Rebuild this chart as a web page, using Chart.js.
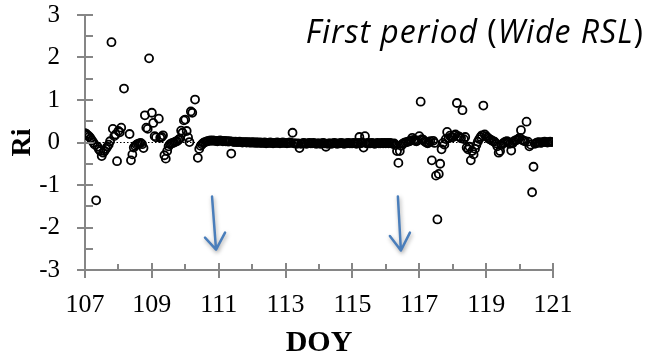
<!DOCTYPE html>
<html>
<head>
<meta charset="utf-8">
<title>Ri vs DOY</title>
<script src="https://cdn.jsdelivr.net/npm/chart.js@4/dist/chart.umd.min.js"></script>
<style>
  html, body { margin: 0; padding: 0; background: #fff; }
  #wrap { position: relative; width: 650px; height: 358px; }
  #period {
    position: absolute; right: 6px; top: 16px;
    font-family: "Open Sans", "Noto Sans", sans-serif; font-size: 32px; line-height: 30px;
    letter-spacing: 1px; color: #000; white-space: nowrap;
  }
  #period i { font-style: italic; }
</style>
</head>
<body>
<div id="wrap">
  <canvas id="riChart" width="650" height="358"></canvas>
  <div id="period"><i>First period</i> (<i>Wide RSL</i>)</div>
</div>
<script>
// hourly Richardson number, one array per day (hour 0..23), null = no data
const days = [107, 108, 109, 110, 111, 112, 113, 114, 115, 116, 117, 118, 119, 120];
const ri107 = [0.22, 0.2, 0.17, 0.14, 0.1, 0.05, 0.0, -0.05, -1.36, -0.1, -0.16, -0.2, -0.32, -0.24, -0.2, -0.15, -0.1, -0.05, 0.03, 2.36, 0.32, 0.15, 0.19, -0.44];
const ri108 = [0.27, 0.24, 0.35, null, 1.27, null, null, null, 0.2, -0.42, -0.28, -0.12, -0.08, -0.05, -0.03, -0.02, -0.01, -0.04, -0.13, 0.64, 0.35, 0.32, 1.98, null];
const ri109 = [0.7, 0.46, 0.15, 0.12, null, 0.56, 0.11, 0.13, 0.17, -0.3, -0.38, -0.2, -0.09, -0.04, -0.02, -0.01, 0.0, 0.02, 0.03, 0.06, 0.09, 0.28, 0.23, 0.52];
const ri110 = [0.54, 0.27, 0.12, 0.01, 0.73, 0.7, null, 1.01, null, -0.36, -0.15, -0.08, -0.04, -0.01, 0.01, 0.02, 0.03, 0.04, 0.05, 0.04, 0.05, 0.04, 0.04, 0.03];
const ri111 = [0.04, 0.05, 0.04, 0.03, 0.04, 0.03, 0.03, 0.02, 0.03, -0.26, 0.02, 0.01, 0.02, 0.01, 0.01, 0.02, 0.01, 0.0, 0.01, 0.01, 0.0, 0.01, 0.0, 0.0];
const ri112 = [0.0, 0.01, -0.01, 0.0, 0.0, -0.01, 0.0, -0.01, -0.01, 0.0, -0.02, -0.01, -0.01, 0.0, -0.01, -0.02, -0.01, -0.01, 0.0, -0.01, -0.02, -0.01, 0.0, -0.01];
const ri113 = [-0.01, -0.02, -0.01, 0.0, -0.01, 0.23, -0.02, -0.02, -0.03, -0.02, -0.13, -0.03, -0.02, -0.01, -0.02, -0.03, -0.02, -0.01, -0.02, -0.02, -0.01, -0.02, -0.03, -0.02];
const ri114 = [-0.02, -0.03, -0.02, -0.01, -0.02, -0.1, -0.03, -0.02, -0.02, -0.03, -0.02, -0.01, -0.02, -0.03, -0.02, -0.02, -0.01, -0.02, -0.03, -0.02, -0.02, -0.01, -0.02, -0.02];
const ri115 = [-0.02, -0.01, -0.02, -0.03, -0.01, 0.13, -0.02, 0.0, -0.12, 0.15, -0.02, -0.01, -0.02, -0.02, -0.01, -0.02, -0.03, -0.02, -0.01, -0.02, -0.02, -0.01, -0.02, -0.01];
const ri116 = [-0.02, -0.01, -0.02, -0.01, -0.02, -0.03, -0.02, -0.06, -0.2, -0.48, -0.2, -0.08, -0.03, -0.01, 0.0, 0.01, 0.02, 0.03, 0.05, 0.11, 0.06, 0.04, 0.03, 0.05];
const ri117 = [0.15, 0.96, 0.08, 0.06, 0.02, 0.0, -0.02, 0.0, 0.03, -0.42, 0.04, -0.01, -0.78, -1.81, -0.74, -0.5, -0.16, -0.01, -0.05, 0.08, 0.25, 0.1, 0.16, 0.12];
const ri118 = [0.12, 0.17, 0.19, 0.93, 0.15, 0.13, 0.1, 0.76, 0.08, 0.13, -0.12, -0.16, -0.1, -0.42, -0.2, -0.28, -0.15, -0.06, 0.02, 0.08, 0.13, 0.17, 0.87, 0.19];
const ri119 = [0.15, 0.12, 0.09, 0.07, 0.05, 0.03, 0.02, -0.02, -0.09, -0.24, -0.2, -0.06, -0.02, 0.0, 0.02, 0.03, 0.01, -0.03, -0.19, -0.02, 0.03, 0.05, 0.06, 0.08];
const ri120 = [0.11, 0.29, 0.06, 0.04, 0.03, 0.49, 0.02, -0.09, -0.05, -1.17, -0.57, -0.03, -0.01, 0.0, 0.01, -0.01, 0.0, 0.01, 0.02, 0.01, 0.0, 0.01, 0.02, 0.01];
const riByDay = [ri107, ri108, ri109, ri110, ri111, ri112, ri113, ri114, ri115, ri116, ri117, ri118, ri119, ri120];

const xTicks = [107, 109, 111, 113, 115, 117, 119, 121];
const xMinor = [108, 110, 112, 114, 116, 118, 120];
const yTicks = [-3, -2, -1, 0, 1, 2, 3];
const yMinor = [-2.5, -1.5, -0.5, 0.5, 1.5, 2.5];

// the two blue arrows (tail -> head, with the two barbs), in axis units
const arrows = [
  { tail: [110.8, -1.27], head: [110.92, -2.52], barbs: [[110.59, -2.24], [111.19, -2.12]] },
  { tail: [116.36, -1.27], head: [116.45, -2.54], barbs: [[116.12, -2.2], [116.72, -2.12]] }
];

const points = [];
days.forEach((day, k) => {
  riByDay[k].forEach((v, h) => {
    points.push({ x: day + h / 24, y: v });
  });
});

const axisGrey = '#868686';
const serif = 'Liberation Serif';

// tick marks: major ones cross the axis, minor ones sit inside the plot
const tickMarks = {
  id: 'tickMarks',
  afterDraw(chart) {
    const { ctx, chartArea, scales } = chart;
    const xs = scales.x, ys = scales.y;
    ctx.save();
    ctx.strokeStyle = axisGrey;
    ctx.lineWidth = 2;
    ctx.beginPath();
    xTicks.forEach(v => {
      const px = Math.round(xs.getPixelForValue(v));
      ctx.moveTo(px, chartArea.bottom - 7);
      ctx.lineTo(px, chartArea.bottom + 8);
    });
    xMinor.forEach(v => {
      const px = Math.round(xs.getPixelForValue(v));
      ctx.moveTo(px, chartArea.bottom - 6);
      ctx.lineTo(px, chartArea.bottom);
    });
    yTicks.forEach(v => {
      const py = Math.round(ys.getPixelForValue(v));
      ctx.moveTo(chartArea.left - 8, py);
      ctx.lineTo(chartArea.left + 8, py);
    });
    yMinor.forEach(v => {
      const py = Math.round(ys.getPixelForValue(v));
      ctx.moveTo(chartArea.left, py);
      ctx.lineTo(chartArea.left + 8, py);
    });
    ctx.stroke();
    ctx.restore();
  }
};

const arrowMarks = {
  id: 'arrowMarks',
  afterDatasetsDraw(chart) {
    const { ctx, scales } = chart;
    const px = p => [scales.x.getPixelForValue(p[0]), scales.y.getPixelForValue(p[1])];
    ctx.save();
    ctx.strokeStyle = '#4a7ebb';
    ctx.lineWidth = 2.5;
    ctx.lineCap = 'round';
    ctx.lineJoin = 'round';
    ctx.shadowColor = 'rgba(0,0,0,0.35)';
    ctx.shadowBlur = 4;
    ctx.shadowOffsetX = 1;
    ctx.shadowOffsetY = 2;
    arrows.forEach(a => {
      const t = px(a.tail), h = px(a.head), b1 = px(a.barbs[0]), b2 = px(a.barbs[1]);
      ctx.beginPath();
      ctx.moveTo(t[0], t[1]);
      ctx.lineTo(h[0], h[1]);
      ctx.moveTo(b1[0], b1[1]);
      ctx.lineTo(h[0], h[1]);
      ctx.lineTo(b2[0], b2[1]);
      ctx.stroke();
    });
    ctx.restore();
  }
};

new Chart(document.getElementById('riChart'), {
  type: 'scatter',
  data: {
    datasets: [
      {
        label: 'Ri',
        data: points,
        order: 1,
        pointStyle: 'circle',
        pointRadius: 4,
        pointHoverRadius: 4,
        pointBorderWidth: 1.8,
        pointBorderColor: '#000',
        pointBackgroundColor: 'rgba(0,0,0,0)'
      },
      {
        type: 'line',
        label: 'zero',
        data: [{ x: 107, y: 0 }, { x: 121, y: 0 }],
        order: 2,
        borderColor: '#000',
        borderWidth: 1,
        borderDash: [1.5, 2],
        pointRadius: 0,
        fill: false
      }
    ]
  },
  options: {
    responsive: false,
    animation: false,
    events: [],
    layout: { padding: { top: 15, right: 97, left: 0, bottom: 0 } },
    plugins: {
      legend: { display: false },
      tooltip: { enabled: false }
    },
    scales: {
      x: {
        type: 'linear',
        min: 107,
        max: 121,
        afterBuildTicks: axis => { axis.ticks = xTicks.map(v => ({ value: v })); },
        afterFit: axis => { axis.height = 88; axis.paddingLeft = 0; axis.paddingRight = 0; },
        grid: { display: false, drawTicks: false, tickLength: 0 },
        border: { display: true, color: axisGrey, width: 2 },
        ticks: {
          color: '#000',
          padding: 20,
          maxRotation: 0,
          autoSkip: false,
          font: { family: serif, size: 26 }
        },
        title: {
          display: true,
          text: 'DOY',
          color: '#000',
          padding: { top: 0, bottom: 0 },
          font: { family: serif, size: 30, weight: 'bold', lineHeight: 1 }
        }
      },
      y: {
        type: 'linear',
        min: -3,
        max: 3,
        afterBuildTicks: axis => { axis.ticks = yTicks.map(v => ({ value: v })); },
        afterFit: axis => { axis.width = 85; axis.paddingTop = 0; axis.paddingBottom = 0; },
        grid: { display: false, drawTicks: false, tickLength: 0 },
        border: { display: true, color: axisGrey, width: 2 },
        ticks: {
          color: '#000',
          padding: 25,
          autoSkip: false,
          font: { family: serif, size: 25 }
        },
        title: {
          display: true,
          text: 'Ri',
          color: '#000',
          padding: { top: 9, bottom: 0 },
          font: { family: serif, size: 28, weight: 'bold', lineHeight: 1 }
        }
      }
    }
  },
  plugins: [tickMarks, arrowMarks]
});
</script>
</body>
</html>
